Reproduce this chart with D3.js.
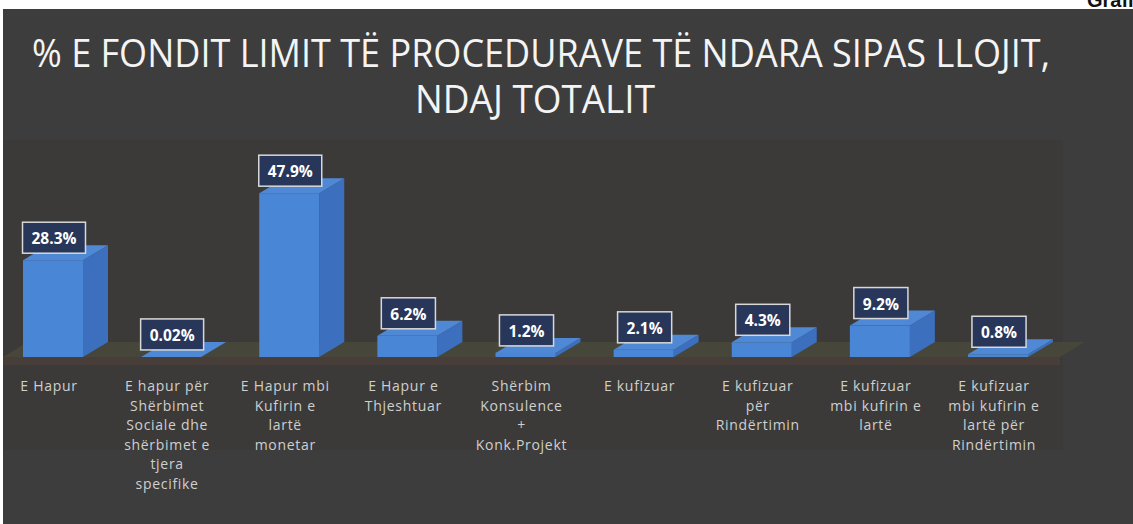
<!DOCTYPE html>
<html>
<head>
<meta charset="utf-8">
<script src="https://cdn.jsdelivr.net/npm/d3@7"></script>
<style>
  body { margin: 0; background: #ffffff; }
  svg { display: block; }
</style>
</head>
<body>
<div id="main"></div>
<script>
// ====================== data ======================
var categories = [
  "E Hapur",
  "E hapur për Shërbimet Sociale dhe shërbimet e tjera specifike",
  "E Hapur mbi Kufirin e lartë monetar",
  "E Hapur e Thjeshtuar",
  "Shërbim Konsulence + Konk.Projekt",
  "E kufizuar",
  "E kufizuar për Rindërtimin",
  "E kufizuar mbi kufirin e lartë",
  "E kufizuar mbi kufirin e lartë për Rindërtimin"
];
// how each category label breaks into lines
var labelLines = [
  ["E Hapur"],
  ["E hapur për", "Shërbimet", "Sociale dhe", "shërbimet e", "tjera", "specifike"],
  ["E Hapur mbi", "Kufirin e", "lartë", "monetar"],
  ["E Hapur e", "Thjeshtuar"],
  ["Shërbim", "Konsulence", "+", "Konk.Projekt"],
  ["E kufizuar"],
  ["E kufizuar", "për", "Rindërtimin"],
  ["E kufizuar", "mbi kufirin e", "lartë"],
  ["E kufizuar", "mbi kufirin e", "lartë për", "Rindërtimin"]
];
var values = [28.3, 0.02, 47.9, 6.2, 1.2, 2.1, 4.3, 9.2, 0.8];
var valueLabels = ["28.3%", "0.02%", "47.9%", "6.2%", "1.2%", "2.1%", "4.3%", "9.2%", "0.8%"];
var titleLines = ["% E FONDIT LIMIT TË PROCEDURAVE TË NDARA SIPAS LLOJIT,", "NDAJ TOTALIT"];

// ====================== layout ======================
const size = {"width": 1133, "height": 524};
const baseY = 357;
const barW = 60;       // front face width
const depthX = 25;     // 3d offset
const depthY = 15;

const svg = d3.select('#main').append('svg')
  .attr('width', size.width)
  .attr('height', size.height);

// white page strip + dark slide background
svg.append('rect').attr('width', size.width).attr('height', size.height).attr('fill', '#ffffff');

// cut-off page caption in top right (sits behind the slide)
svg.append('text')
  .attr('x', 1087).attr('y', 7)
  .attr('font-family', 'Liberation Sans, Arial, sans-serif')
  .attr('font-weight', 'bold')
  .attr('font-size', 20)
  .attr('fill', '#111')
  .text('Grafiku');

svg.append('rect')
  .attr('x', 3).attr('y', 9)
  .attr('width', size.width - 3).attr('height', size.height - 9)
  .attr('fill', '#3d3d3d');
// plot area, slightly warmer
svg.append('rect')
  .attr('x', 3).attr('y', 140)
  .attr('width', 1060).attr('height', 310)
  .attr('fill', '#3b3a38');

// title
var titleG = svg.append('g')
  .attr('font-family', 'Open Sans, sans-serif')
  .attr('font-size', 39)
  .attr('fill', '#f4f4f4');
titleG.append('text')
  .attr('x', 32).attr('y', 67)
  .attr('textLength', 1018).attr('lengthAdjust', 'spacingAndGlyphs')
  .text(titleLines[0]);
titleG.append('text')
  .attr('x', 415).attr('y', 113)
  .attr('textLength', 240).attr('lengthAdjust', 'spacingAndGlyphs')
  .text(titleLines[1]);

// scales
var x = d3.scalePoint().domain(categories).range([49, 994]);
var y = d3.scaleLinear().domain([0, 50]).range([baseY, baseY - 50 * 3.42]);

// floor of the 3d chart
var floorL = 3, floorR = 1060;
svg.append('path')
  .attr('d', `M${floorL},${baseY} L${floorL + depthX},${baseY - depthY} L${floorR + depthX},${baseY - depthY} L${floorR},${baseY} Z`)
  .attr('fill', '#46463a');
svg.append('rect')
  .attr('x', floorL).attr('y', baseY)
  .attr('width', floorR - floorL).attr('height', 8)
  .attr('fill', '#473e39');

// bars
var data = categories.map((c, i) => ({cat: c, value: values[i], label: valueLabels[i], lines: labelLines[i]}));

var bars = svg.selectAll('g.bar')
  .data(data)
  .enter()
  .append('g')
  .attr('class', 'bar');

bars.each(function(d) {
  var g = d3.select(this);
  var x0 = x(d.cat) + 4 - barW / 2;
  var x1 = x0 + barW;
  var top = y(d.value);
  // side face
  g.append('path')
    .attr('d', `M${x1},${baseY} L${x1},${top} L${x1 + depthX},${top - depthY} L${x1 + depthX},${baseY - depthY} Z`)
    .attr('fill', '#3c6fbd');
  // top face
  g.append('path')
    .attr('d', `M${x0},${top} L${x0 + depthX},${top - depthY} L${x1 + depthX},${top - depthY} L${x1},${top} Z`)
    .attr('fill', '#4f88d4');
  // front face
  g.append('rect')
    .attr('x', x0).attr('y', top)
    .attr('width', barW).attr('height', baseY - top)
    .attr('fill', '#4a86d6');
});

// value labels in boxes
bars.each(function(d) {
  var g = d3.select(this);
  var cx = x(d.cat) + 5;
  var top = y(d.value);
  var box = g.append('rect');
  var t = g.append('text')
    .attr('x', cx).attr('y', top - 7 - 9)
    .attr('text-anchor', 'middle')
    .attr('font-family', 'Open Sans, sans-serif')
    .attr('font-weight', 'bold')
    .attr('font-size', 15.5)
    .attr('fill', '#ffffff')
    .text(d.label);
  var w = t.node().getComputedTextLength() + 18;
  box.attr('x', cx - w / 2).attr('y', top - 7 - 31)
    .attr('width', w).attr('height', 31)
    .attr('fill', '#28365a')
    .attr('stroke', '#d8d8d8')
    .attr('stroke-width', 1.5);
});

// category labels
bars.each(function(d) {
  var t = d3.select(this).append('text')
    .attr('text-anchor', 'middle')
    .attr('font-family', 'Open Sans, sans-serif')
    .attr('font-size', 14)
    .attr('letter-spacing', 0.7)
    .attr('fill', '#cfcfcf');
  t.selectAll('tspan')
    .data(d.lines)
    .enter()
    .append('tspan')
    .attr('x', x(d.cat))
    .attr('y', (l, i) => 391 + i * 19.6)
    .text(l => l);
});
</script>
</body>
</html>
